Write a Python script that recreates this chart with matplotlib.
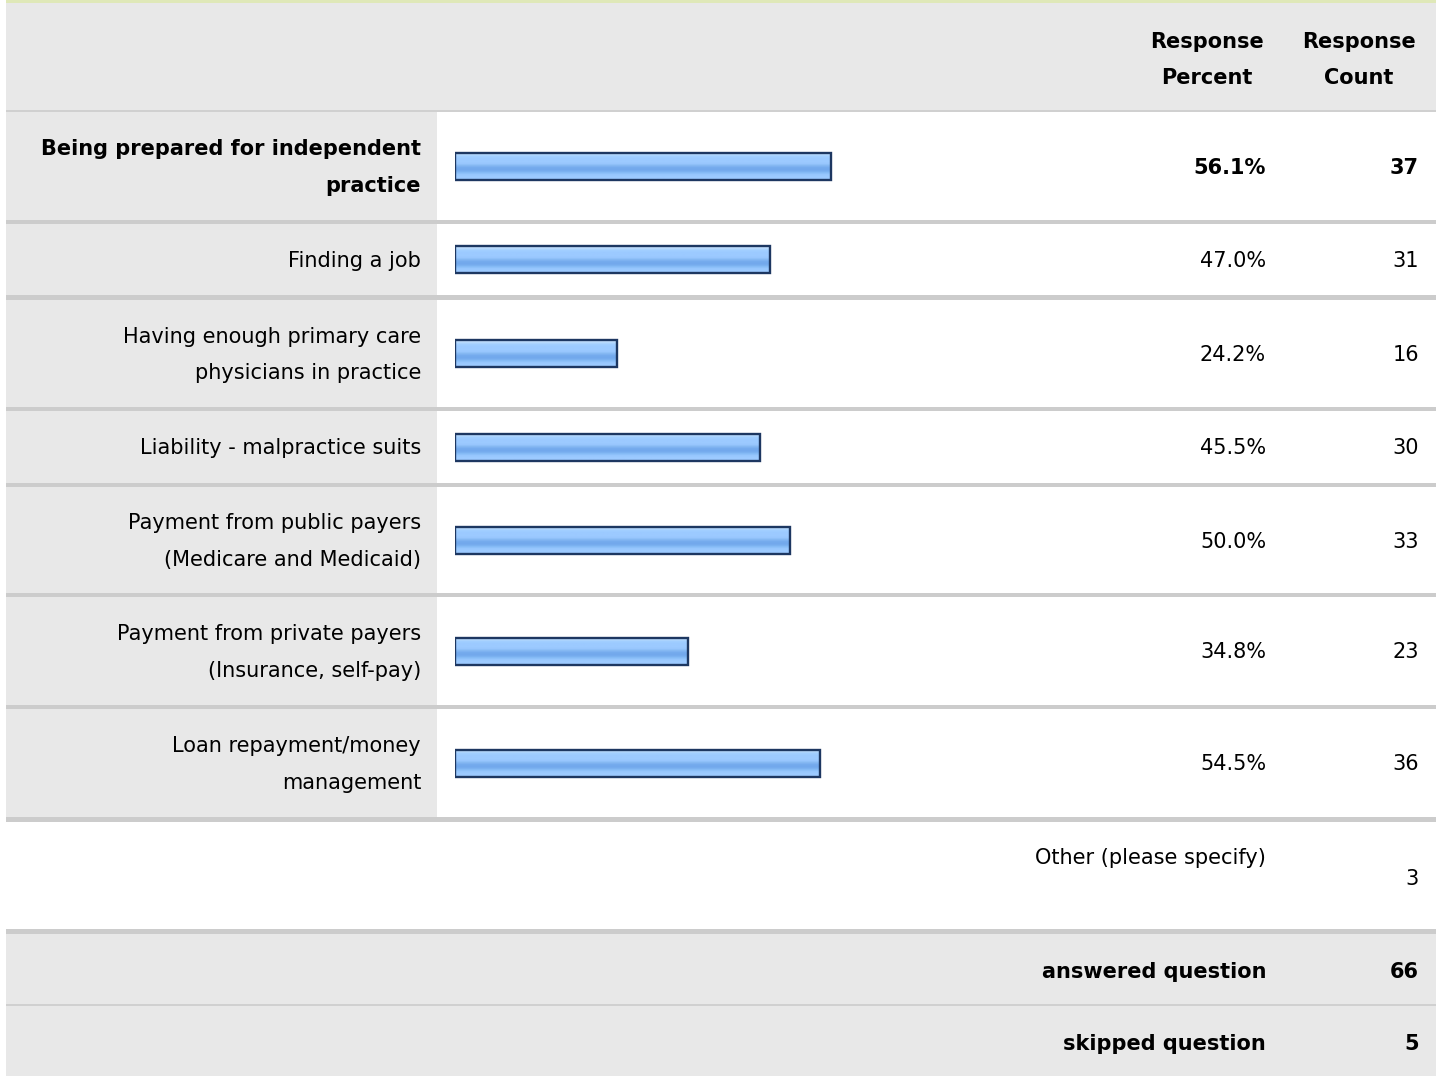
import matplotlib
matplotlib.use("Agg")
import matplotlib.pyplot as plt
import numpy as np
from matplotlib.colors import to_rgb

# ---------------- data ----------------
categories = [
    "Being prepared for independent\npractice",
    "Finding a job",
    "Having enough primary care\nphysicians in practice",
    "Liability - malpractice suits",
    "Payment from public payers\n(Medicare and Medicaid)",
    "Payment from private payers\n(Insurance, self-pay)",
    "Loan repayment/money\nmanagement",
]
percents = [56.1, 47.0, 24.2, 45.5, 50.0, 34.8, 54.5]
counts = [37, 31, 16, 30, 33, 23, 36]
header_percent = "Response\nPercent"
header_count = "Response\nCount"
other_label = "Other (please specify)"
other_count = 3
answered_label = "answered question"
answered_count = 66
skipped_label = "skipped question"
skipped_count = 5

# ---------------- layout (pixels) ----------------
W, H = 1442, 1076
FONT = "DejaVu Sans"
FS = 15
LS = 2.02
rows = [(112, 220), (224, 295), (300, 407), (411, 483), (487, 593), (597, 705), (709, 817)]
GRAY = "#e8e8e8"
SEP = "#cccccc"
TXT = "#000000"

fig = plt.figure(figsize=(W / 100, H / 100), dpi=100)
ax = fig.add_axes([0, 0, 1, 1])
ax.set_xlim(0, W)
ax.set_ylim(H, 0)
ax.axis("off")

def rect(x0, y0, x1, y1, color):
    ax.add_patch(plt.Rectangle((x0, y0), x1 - x0, y1 - y0, facecolor=color,
                               edgecolor="none", zorder=1))

L, R = 6, 1436
# top line
rect(L, 0, R, 3, "#dfe8b8")
# header
rect(L, 3, R, 110, GRAY)
rect(L, 110, R, 112, "#d0d0d0")
ax.text(1207, 60, header_percent, ha="center", va="center", fontsize=FS,
        fontweight="bold", family=FONT, color=TXT, linespacing=LS)
ax.text(1359, 60, header_count, ha="center", va="center", fontsize=FS,
        fontweight="bold", family=FONT, color=TXT, linespacing=LS)

# data rows
prev_bottom = 112
for i, (top, bot) in enumerate(rows):
    rect(L, prev_bottom, R, top, SEP)
    rect(L, top, 437, bot, GRAY)
    cy = (top + bot) / 2
    fw = "bold" if i == 0 else "normal"
    ax.text(421, cy + 1.5, categories[i], ha="right", va="center", fontsize=FS,
            fontweight=fw, family=FONT, color=TXT, linespacing=LS)
    ax.text(1266, cy + 1.5, f"{percents[i]:.1f}%", ha="right", va="center",
            fontsize=FS, fontweight=fw, family=FONT, color=TXT)
    ax.text(1419, cy + 1.5, f"{counts[i]}", ha="right", va="center",
            fontsize=FS, fontweight=fw, family=FONT, color=TXT)
    prev_bottom = bot

rect(L, 817, R, 822, SEP)
ax.text(1266, 858, other_label, ha="right", va="center", fontsize=FS,
        family=FONT, color=TXT)
ax.text(1419, 879, f"{other_count}", ha="right", va="center", fontsize=FS,
        family=FONT, color=TXT)
rect(L, 929, R, 934, SEP)
rect(L, 934, R, 1004, GRAY)
ax.text(1266, 972, answered_label, ha="right", va="center", fontsize=FS,
        fontweight="bold", family=FONT, color=TXT)
ax.text(1419, 972, f"{answered_count}", ha="right", va="center", fontsize=FS,
        fontweight="bold", family=FONT, color=TXT)
rect(L, 1004, R, 1006, "#d0d0d0")
rect(L, 1006, R, H, GRAY)
ax.text(1266, 1044, skipped_label, ha="right", va="center", fontsize=FS,
        fontweight="bold", family=FONT, color=TXT)
ax.text(1419, 1044, f"{skipped_count}", ha="right", va="center", fontsize=FS,
        fontweight="bold", family=FONT, color=TXT)

# ---------------- bars ----------------
bx = fig.add_axes([455 / W, 0, 670 / W, 1])
bx.set_xlim(0, 100)
bx.set_ylim(H, 0)
bx.axis("off")
bx.patch.set_alpha(0)

centers = [(t + b) / 2 for t, b in rows]
stripe_cols = ["#c8e2fd", "#b4d8fd", "#a2cfff", "#9ccaff", "#9ccaff", "#9ccaff",
               "#98c6fd", "#86b9f3", "#76acee", "#72a8ec", "#76acee", "#86bcf6",
               "#96c6fd", "#9ccaff", "#9ccaff"]
grad = np.array([to_rgb(c) for c in stripe_cols])[:, None, :]

bars = bx.barh(centers, percents, height=27, left=0, facecolor="none",
               edgecolor="#1d3761", linewidth=1.7, zorder=3)
for b in bars:
    x0, y0, w, h = b.get_x(), b.get_y(), b.get_width(), b.get_height()
    bx.imshow(grad, extent=[x0, x0 + w, y0 + h, y0], aspect="auto",
              interpolation="bilinear", zorder=2)

fig.savefig("out.png", dpi=100)
